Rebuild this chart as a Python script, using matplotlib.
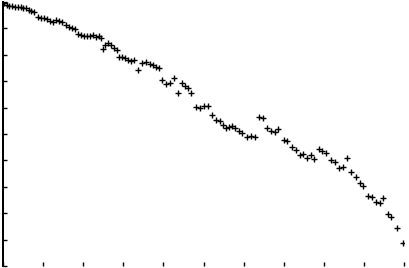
import matplotlib
matplotlib.use("Agg")
import matplotlib.pyplot as plt

x_values = [0.25, 1.0, 1.5, 2.24, 2.99, 3.74, 4.49, 4.99, 5.74, 6.48, 6.98, 7.73,
            8.73, 9.48, 10.22, 10.97, 11.72, 12.47, 13.22, 13.97, 14.71, 15.71,
            16.46, 17.21, 17.96, 18.70, 19.45, 20.20, 20.95, 21.70, 22.44, 23.19,
            23.94, 24.44, 24.94, 25.44, 26.18, 26.93, 27.68, 28.43, 28.93, 29.68,
            30.42, 31.17, 31.92, 32.67, 33.67, 34.66, 35.66, 36.66, 37.41, 38.15,
            38.90, 39.65, 40.65, 41.65, 42.64, 43.64, 44.64, 45.39, 46.13, 46.88,
            48.13, 49.13, 50.12, 51.12, 52.12, 53.12, 54.11, 54.86, 55.61, 56.36,
            57.11, 57.86, 58.85, 59.60, 60.85, 61.85, 62.84, 63.84, 64.84, 65.84,
            66.83, 67.83, 68.58, 70.07, 70.82, 72.07, 73.07, 74.06, 74.81, 75.81,
            76.81, 77.56, 78.80, 79.55, 80.55, 81.80, 82.79, 83.79, 84.79, 85.79,
            86.78, 88.03, 89.03, 89.78, 91.02, 92.02, 93.02, 94.01, 94.76, 96.01,
            96.76, 98.25, 99.75]
y_values = [9.96, 9.89, 9.85, 9.85, 9.81, 9.81, 9.81, 9.77, 9.77, 9.70, 9.66, 9.62,
            9.43, 9.39, 9.39, 9.36, 9.28, 9.24, 9.32, 9.28, 9.24, 9.13,
            9.05, 9.02, 8.98, 8.79, 8.75, 8.71, 8.71, 8.71, 8.75, 8.67,
            8.71, 8.64, 8.22, 8.37, 8.45, 8.37, 8.26, 8.18, 7.92, 7.92,
            7.88, 7.80, 7.77, 7.80, 7.42, 7.69, 7.73, 7.65, 7.61, 7.54,
            7.50, 7.05, 6.89, 6.93, 7.12, 6.55, 6.93, 6.82, 6.74, 6.55,
            6.02, 5.98, 6.06, 6.06, 5.72, 5.53, 5.49, 5.34, 5.23, 5.27,
            5.30, 5.23, 5.11, 5.04, 4.89, 4.92, 4.89, 5.64, 5.61, 5.23,
            5.11, 5.08, 5.19, 4.77, 4.73, 4.51, 4.39, 4.20, 4.24, 4.09,
            4.20, 4.05, 4.43, 4.36, 4.28, 4.02, 3.94, 3.71, 3.75, 4.09,
            3.56, 3.37, 3.14, 3.03, 2.65, 2.61, 2.42, 2.39, 2.58, 1.97,
            1.86, 1.44, 0.87]

x_ticks = [0, 10, 20, 30, 40, 50, 60, 70, 80, 90, 100]
y_ticks = [0, 1, 2, 3, 4, 5, 6, 7, 8, 9, 10]

fig = plt.figure(figsize=(4.09, 2.68), dpi=100)
ax = fig.add_axes([3 / 409, 2 / 268, 401 / 409, 264 / 268])
ax.plot(x_values, y_values, linestyle="none", marker="+", markersize=5,
        markeredgewidth=1.0, color="black", antialiased=False)
ax.set_xlim(0, 100)
ax.set_ylim(0, 10)
ax.set_xticks(x_ticks)
ax.set_yticks(y_ticks)
for side in ("top", "right", "bottom"):
    ax.spines[side].set_visible(False)
ax.spines["left"].set_linewidth(1.2)
ax.spines["left"].set_antialiased(False)
ax.tick_params(direction="in", length=3, width=1, labelleft=False, labelbottom=False,
               color="black")
fig.savefig("out.png", dpi=100)
